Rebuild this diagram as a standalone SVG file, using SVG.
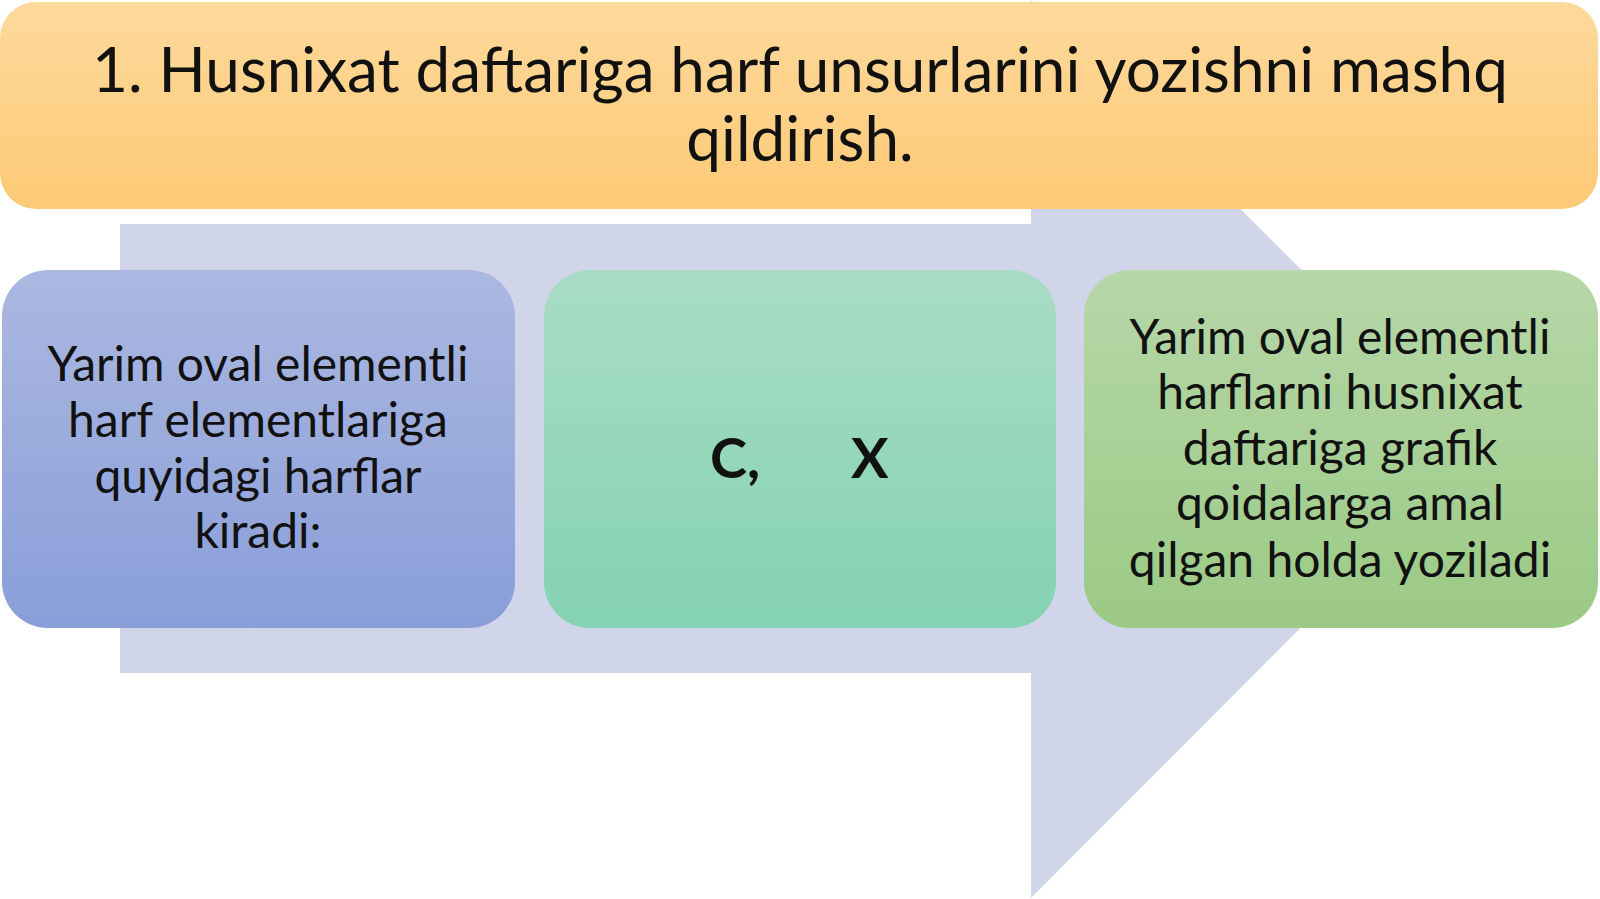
<svg xmlns="http://www.w3.org/2000/svg" width="1600" height="899" viewBox="0 0 1600 899">
  <defs>
    <linearGradient id="gBanner" x1="0" y1="0" x2="0" y2="1">
      <stop offset="0" stop-color="#fdd99c"/>
      <stop offset="1" stop-color="#fdca76"/>
    </linearGradient>
    <linearGradient id="gBlue" x1="0" y1="0" x2="0" y2="1">
      <stop offset="0" stop-color="#abb8e0"/>
      <stop offset="1" stop-color="#899ed9"/>
    </linearGradient>
    <linearGradient id="gTeal" x1="0" y1="0" x2="0" y2="1">
      <stop offset="0" stop-color="#a9dcc7"/>
      <stop offset="1" stop-color="#84d2b1"/>
    </linearGradient>
    <linearGradient id="gGreen" x1="0" y1="0" x2="0" y2="1">
      <stop offset="0" stop-color="#b6d7a8"/>
      <stop offset="1" stop-color="#9bca85"/>
    </linearGradient>
  </defs>
  <style>
    .t { font-family: Lato, "Liberation Sans", sans-serif; fill: #111111; text-anchor: middle; }
    .title { font-size: 62px; }
    .body { font-size: 48px; }
    .big { font-size: 56px; font-weight: bold; text-anchor: start; }
  </style>
  <rect width="1600" height="899" fill="#ffffff"/>
  <g id="arrow">
    <path d="M120,224 H1031 V0 L1480,448 L1031,898 V673 H120 Z" fill="#d1d5ea"/>
  </g>
  <g id="connectors"></g>
  <g id="banner">
    <rect x="0" y="2" width="1598" height="207" rx="36" fill="url(#gBanner)"/>
    <text class="t title" x="800" y="92">1. Husnixat daftariga harf unsurlarini yozishni mashq</text>
    <text class="t title" x="800" y="161">qildirish.</text>
  </g>
  <g id="box1">
    <rect x="2" y="270" width="513" height="358" rx="46" fill="url(#gBlue)"/>
    <text class="t body" x="258" y="381">Yarim oval elementli</text>
    <text class="t body" x="258" y="437">harf elementlariga</text>
    <text class="t body" x="258" y="493">quyidagi harflar</text>
    <text class="t body" x="258" y="548">kiradi:</text>
  </g>
  <g id="box2">
    <rect x="544" y="270" width="512" height="358" rx="46" fill="url(#gTeal)"/>
    <text class="t big" x="710" y="478">C,</text>
    <text class="t big" x="851" y="478">X</text>
  </g>
  <g id="box3">
    <rect x="1084" y="270" width="514" height="358" rx="46" fill="url(#gGreen)"/>
    <text class="t body" x="1340" y="354">Yarim oval elementli</text>
    <text class="t body" x="1340" y="409">harflarni husnixat</text>
    <text class="t body" x="1340" y="465">daftariga grafik</text>
    <text class="t body" x="1340" y="520">qoidalarga amal</text>
    <text class="t body" x="1340" y="577">qilgan holda yoziladi</text>
  </g>
</svg>
